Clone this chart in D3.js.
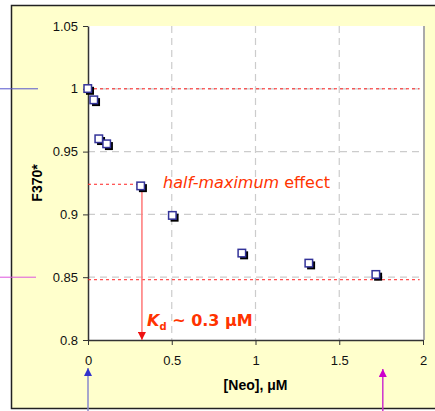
<!DOCTYPE html>
<html>
<head>
<meta charset="utf-8">
<script src="https://cdn.jsdelivr.net/npm/d3@7"></script>
<style>
body { margin: 0; background: #fff; }
text { font-family: "Liberation Sans", Arial, sans-serif; }
</style>
</head>
<body>
<svg class="chart" width="435" height="411"></svg>
<script>
// measured points: [Neo] (uM) vs F370*
var neo = [0, 0.036, 0.066, 0.113, 0.316, 0.505, 0.92, 1.32, 1.72];
var f370 = [1.0, 0.991, 0.960, 0.956, 0.9225, 0.899, 0.869, 0.861, 0.852];
var xTicks = [0, 0.5, 1, 1.5, 2];
var yTicks = [0.8, 0.85, 0.9, 0.95, 1, 1.05];
var maxEffect = 1.0, minEffect = 0.848, halfEffect = 0.924, kd = 0.316;

var margin = {top: 26, right: 12, bottom: 71, left: 88};
var width = 435, height = 411;

var x = d3.scaleLinear().domain([0, 2]).range([margin.left, width - margin.right]);
var y = d3.scaleLinear().domain([0.8, 1.05]).range([height - margin.bottom, margin.top]);

var svg = d3.select(".chart");

var defs = svg.append("defs");
function arrow(id, color) {
  defs.append("marker").attr("id", id)
      .attr("viewBox", "0 0 10 10").attr("refX", 10).attr("refY", 5)
      .attr("markerWidth", 8).attr("markerHeight", 8)
      .attr("markerUnits", "userSpaceOnUse").attr("orient", "auto")
    .append("path").attr("d", "M0,0L10,5L0,10Z").attr("fill", color);
}
arrow("arRed", "#ee1111");
arrow("arBlue", "#3333cc");
arrow("arMag", "#cc00cc");

// yellow panel
svg.append("rect").attr("x", 11.5).attr("y", 5.5).attr("width", 430).attr("height", 403)
    .attr("fill", "#ffffcc").attr("stroke", "#222").attr("stroke-width", 1.5);

// plot area
svg.append("rect").attr("x", x(0)).attr("y", y(1.05))
    .attr("width", x(2) - x(0)).attr("height", y(0.8) - y(1.05))
    .attr("fill", "#fff");
svg.append("line").attr("x1", x(2) + 1).attr("x2", x(2) + 1).attr("y1", y(1.05)).attr("y2", y(0.8))
    .attr("stroke", "#aaa").attr("stroke-width", 2);

// grid
svg.append("g").selectAll("line").data(xTicks.filter(d => d > 0 && d < 2)).enter().append("line")
    .attr("x1", d => x(d)).attr("x2", d => x(d)).attr("y1", y(1.05)).attr("y2", y(0.8))
    .attr("stroke", "#ccc").attr("stroke-width", 1.2).attr("stroke-dasharray", "7,5");
svg.append("g").selectAll("line").data(yTicks.filter(d => d > 0.8 && d < 1.05)).enter().append("line")
    .attr("x1", x(0)).attr("x2", x(2)).attr("y1", d => y(d)).attr("y2", d => y(d))
    .attr("stroke", "#ccc").attr("stroke-width", 1.2).attr("stroke-dasharray", "7,5");

// axes
var yAxis = svg.append("g").attr("transform", "translate(" + x(0) + ",0)")
    .call(d3.axisLeft(y).tickValues(yTicks).tickFormat(d3.format("")).tickSize(5).tickSizeOuter(0));
var xAxis = svg.append("g").attr("transform", "translate(0," + y(0.8) + ")")
    .call(d3.axisBottom(x).tickValues(xTicks).tickFormat(d3.format("")).tickSize(5).tickSizeOuter(0));
[xAxis, yAxis].forEach(function(g) {
  g.select(".domain").attr("stroke", "#333").attr("stroke-width", 1.5);
  g.selectAll(".tick line").attr("stroke", "#333");
  g.selectAll(".tick text").attr("font-size", 13).attr("fill", "#111")
      .style("font-family", "Liberation Sans, Arial, sans-serif");
});
xAxis.selectAll(".tick text").attr("dy", "1.3em");
yAxis.selectAll(".tick text").attr("dx", "-0.15em");

// red dotted reference lines
svg.append("line").attr("x1", x(0)).attr("x2", x(1.98)).attr("y1", y(maxEffect)).attr("y2", y(maxEffect))
    .attr("stroke", "#ff2222").attr("stroke-dasharray", "3,3");
svg.append("line").attr("x1", x(0)).attr("x2", x(1.98)).attr("y1", y(minEffect)).attr("y2", y(minEffect))
    .attr("stroke", "#ff2222").attr("stroke-dasharray", "3,3");
svg.append("line").attr("x1", x(0)).attr("x2", x(kd)).attr("y1", y(halfEffect)).attr("y2", y(halfEffect))
    .attr("stroke", "#ff2222").attr("stroke-dasharray", "3,3");

// Kd arrow
svg.append("line").attr("x1", x(kd) + 1).attr("x2", x(kd) + 1)
    .attr("y1", y(halfEffect)).attr("y2", y(0.8))
    .attr("stroke", "#ff7777").attr("stroke-width", 1.5).attr("marker-end", "url(#arRed)");

// markers
var pts = svg.append("g").selectAll("g").data(neo).enter().append("g")
    .attr("transform", (d, i) => "translate(" + x(d) + "," + y(f370[i]) + ")");
pts.append("rect").attr("x", -2).attr("y", -2).attr("width", 8).attr("height", 8).attr("fill", "#000");
pts.append("rect").attr("x", -4).attr("y", -4).attr("width", 7.5).attr("height", 7.5)
    .attr("fill", "#fff").attr("stroke", "#333399").attr("stroke-width", 1.5);

// annotations
var hm = svg.append("text").attr("x", 163).attr("y", y(halfEffect) + 4)
    .attr("font-size", 16).attr("fill", "#ff3300")
    .style("font-family", "DejaVu Sans, Verdana, sans-serif");
hm.append("tspan").attr("font-style", "italic").text("half-maximum");
hm.append("tspan").text(" effect");

var kt = svg.append("text").attr("x", 147).attr("y", 326)
    .attr("font-size", 16).attr("font-weight", "bold").attr("fill", "#ff3300")
    .style("font-family", "DejaVu Sans, Verdana, sans-serif");
kt.append("tspan").attr("font-style", "italic").text("K");
kt.append("tspan").attr("font-size", 10).attr("dy", 4).text("d");
kt.append("tspan").attr("dy", -4).text(" ~ 0.3 μM");

// axis titles
svg.append("text").attr("x", x(1)).attr("y", 390).attr("text-anchor", "middle")
    .attr("font-size", 14).attr("font-weight", "bold").text("[Neo], μM");
svg.append("text").attr("transform", "translate(42," + y(0.925) + ") rotate(-90)")
    .attr("text-anchor", "middle").attr("font-size", 14).attr("font-weight", "bold").text("F370*");

// side marks
svg.append("line").attr("x1", 0).attr("x2", 38).attr("y1", y(maxEffect)).attr("y2", y(maxEffect))
    .attr("stroke", "#5555cc").attr("stroke-width", 1);
svg.append("line").attr("x1", 0).attr("x2", 36).attr("y1", y(0.85)).attr("y2", y(0.85))
    .attr("stroke", "#dd55dd").attr("stroke-width", 1);
svg.append("line").attr("x1", x(0)).attr("x2", x(0)).attr("y1", 411).attr("y2", 368)
    .attr("stroke", "#8888cc").attr("stroke-width", 1.5).attr("marker-end", "url(#arBlue)");
svg.append("line").attr("x1", x(1.76)).attr("x2", x(1.76)).attr("y1", 411).attr("y2", 369)
    .attr("stroke", "#cc33cc").attr("stroke-width", 1.5).attr("marker-end", "url(#arMag)");
</script>
</body>
</html>
